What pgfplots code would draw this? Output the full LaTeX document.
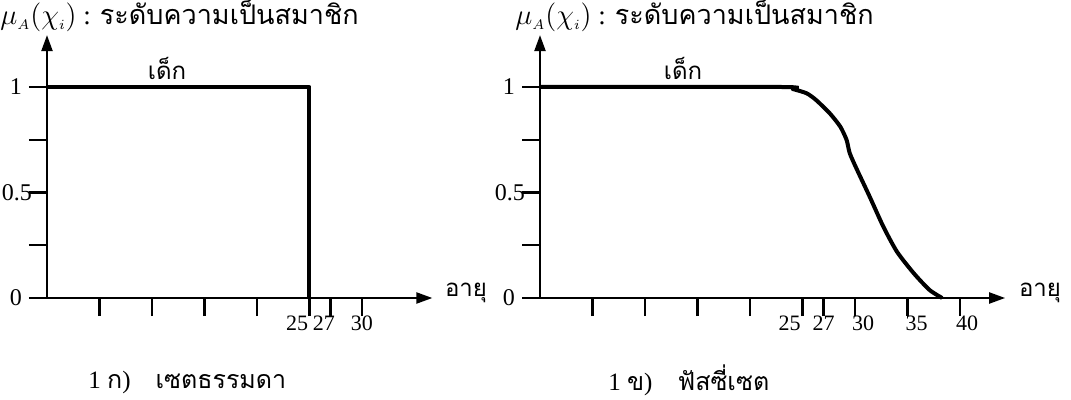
\documentclass[border=0pt]{standalone}
\usepackage{fontspec}
\setmainfont{Liberation Serif}
\newfontfamily\thaifont[Script=Thai]{Loma}
\usepackage{pgfplots}
\pgfplotsset{compat=1.18}
\usetikzlibrary{arrows.meta}

% shared look of both membership plots (1px of the reference = 0.5pt)
\pgfplotsset{fz/.style={
  x=5.25pt, y=105.5pt, anchor=origin,
  axis lines=left, enlargelimits=false, clip=false,
  axis line style={line width=1.1pt, black},
  x axis line style={-{Triangle[length=8pt,width=5.5pt]}},
  y axis line style={-{Triangle[length=8pt,width=5.5pt]}},
  xmin=0, ymin=0, ymax=1.246,
  ytick={0,0.25,0.5,0.75,1},
  yticklabels={0,,{0.5\hspace*{-5pt}},,1},
  tick align=outside,
  major tick length=9pt,
  tick style={line width=1.1pt, black},
  /pgf/number format/assume math mode=true,
  yticklabel style={font=\fontsize{12}{14}\selectfont},
  xticklabel style={yshift=3.5pt, font=\fontsize{11}{13}\selectfont},
}}

\begin{document}
\begin{tikzpicture}
\path[use as bounding box] (0,0) rectangle (535.5pt,-200pt);

% 1 ko) crisp set
\begin{axis}[fz, at={(23.5pt,-149pt)}, xmax=36.7,
    xtick={5,10,15,20,25,27,30},
    xticklabels={,,,,{\hspace*{-12.5pt}25},{\hspace*{-6.5pt}27},30}]
\addplot[black, line width=2pt, line join=round] coordinates {
    (0,1) (25,1) (25,0)
};
\end{axis}

% 1 kho) fuzzy set
\begin{axis}[fz, at={(270pt,-149pt)}, xmax=44.3,
    xtick={5,10,15,20,25,27,30,35,40},
    xticklabels={,,,,{\hspace*{-13pt}25},27,{\hspace*{8pt}30},{\hspace*{9pt}35},{\hspace*{7pt}40}}]
\addplot[black, line width=2pt, smooth, tension=0.4] coordinates {
    (0,1) (23,1) (24.1,0.99) (25.4,0.97) (26.3,0.938) (27.6,0.875)
    (28.6,0.812) (29.2,0.749) (29.5,0.686) (30.2,0.607) (31.4,0.48)
    (32.7,0.338) (34.0,0.219) (35.6,0.117) (37.1,0.038) (38.3,0)
};
\end{axis}

\def\ttl{{\fontsize{15}{17}\selectfont$\mu_{\scriptscriptstyle A}(\chi_{\scriptscriptstyle i})$} : {\thaifont ระดับความเป็นสมาชิก}}
\node[anchor=west, inner sep=0pt, font=\fontsize{13.5}{15}\selectfont] at (0pt,-8pt) {\ttl};
\node[anchor=west, inner sep=0pt, font=\fontsize{13.5}{15}\selectfont] at (257.5pt,-8pt) {\ttl};
\node[font=\thaifont\fontsize{12}{14}\selectfont] at (83.5pt,-34pt) {เด็ก};
\node[font=\thaifont\fontsize{12}{14}\selectfont] at (341.5pt,-34pt) {เด็ก};
\node[font=\thaifont\fontsize{12}{14}\selectfont] at (233pt,-146.5pt) {อายุ};
\node[font=\thaifont\fontsize{12}{14}\selectfont] at (520pt,-146.5pt) {อายุ};
\node[anchor=west, inner sep=0pt, font=\fontsize{12.5}{14}\selectfont] at (44pt,-191pt)
    {1 {\thaifont ก})\quad{\thaifont เซตธรรมดา}};
\node[anchor=west, inner sep=0pt, font=\fontsize{12.5}{14}\selectfont] at (304pt,-190pt)
    {1 {\thaifont ข})\quad{\thaifont ฟัสซี่เซต}};
\end{tikzpicture}
\end{document}
